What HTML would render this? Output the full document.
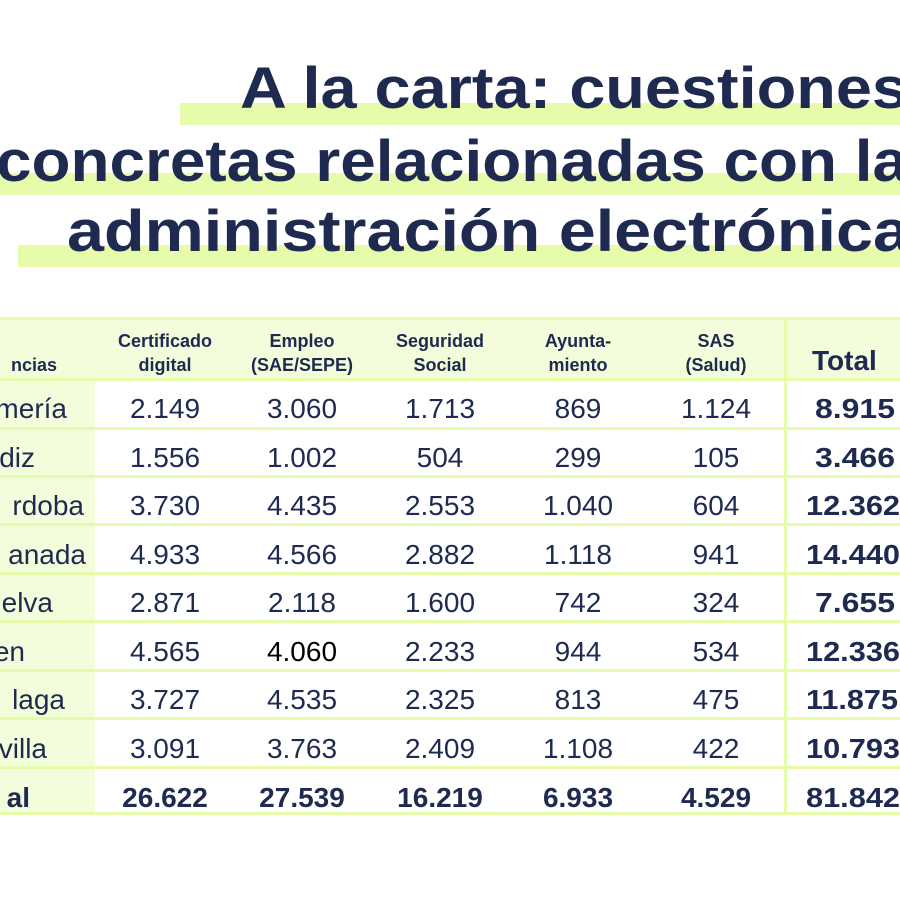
<!DOCTYPE html>
<html><head><meta charset="utf-8"><style>
html,body{margin:0;padding:0;background:#fff;width:900px;height:900px;overflow:hidden}
svg{display:block}
text{font-family:"Liberation Sans",sans-serif;fill:#1e2a4f}
</style></head><body>
<svg width="900" height="900" viewBox="0 0 900 900">
<rect x="180" y="103" width="720" height="22" fill="#e6fcab"/>
<rect x="0" y="173" width="900" height="22" fill="#e6fcab"/>
<rect x="18" y="245" width="882" height="22" fill="#e6fcab"/>
<g font-weight="bold" font-size="58">
<text x="240" y="108" textLength="668" lengthAdjust="spacingAndGlyphs">A la carta: cuestiones</text>
<text x="-4" y="181" textLength="912" lengthAdjust="spacingAndGlyphs">concretas relacionadas con la</text>
<text x="67" y="251" textLength="843" lengthAdjust="spacingAndGlyphs">administración electrónica</text>
</g>
<rect x="0" y="318" width="900" height="61" fill="#f3fddb"/>
<rect x="0" y="379" width="95" height="434" fill="#f3fddb"/>
<g fill="#e6fcab">
<rect x="0" y="317" width="900" height="3"/>
<rect x="0" y="378" width="900" height="3"/>
<rect x="0" y="427" width="900" height="3"/>
<rect x="0" y="475" width="900" height="3"/>
<rect x="0" y="523" width="900" height="3"/>
<rect x="0" y="572" width="900" height="3"/>
<rect x="0" y="620" width="900" height="3"/>
<rect x="0" y="669" width="900" height="3"/>
<rect x="0" y="717" width="900" height="3"/>
<rect x="0" y="766" width="900" height="3"/>
<rect x="0" y="812" width="900" height="3"/>
<rect x="784" y="318" width="3" height="495"/>
</g>
<g font-weight="bold" font-size="18" text-anchor="middle">
<text x="165" y="347">Certificado</text><text x="165" y="371">digital</text>
<text x="302" y="347">Empleo</text><text x="302" y="371">(SAE/SEPE)</text>
<text x="440" y="347">Seguridad</text><text x="440" y="371">Social</text>
<text x="578" y="347">Ayunta-</text><text x="578" y="371">miento</text>
<text x="716" y="347">SAS</text><text x="716" y="371">(Salud)</text>
</g>
<text x="57" y="371" font-weight="bold" font-size="18" text-anchor="end">ncias</text>
<text x="812" y="370" font-weight="bold" font-size="28">Total</text>
<g font-size="28" text-anchor="end">
<text x="67" y="418">mería</text>
<text x="35" y="467">diz</text>
<text x="84" y="515">rdoba</text>
<text x="86" y="564">anada</text>
<text x="53" y="612">elva</text>
<text x="25" y="661">en</text>
<text x="65" y="709">laga</text>
<text x="47" y="758">villa</text>
</g>
<text x="30" y="807" font-size="28" font-weight="bold" text-anchor="end">al</text>
<g font-size="28" text-anchor="middle">
<text x="165" y="418">2.149</text><text x="302" y="418">3.060</text><text x="440" y="418">1.713</text><text x="578" y="418">869</text><text x="716" y="418">1.124</text>
<text x="165" y="467">1.556</text><text x="302" y="467">1.002</text><text x="440" y="467">504</text><text x="578" y="467">299</text><text x="716" y="467">105</text>
<text x="165" y="515">3.730</text><text x="302" y="515">4.435</text><text x="440" y="515">2.553</text><text x="578" y="515">1.040</text><text x="716" y="515">604</text>
<text x="165" y="564">4.933</text><text x="302" y="564">4.566</text><text x="440" y="564">2.882</text><text x="578" y="564">1.118</text><text x="716" y="564">941</text>
<text x="165" y="612">2.871</text><text x="302" y="612">2.118</text><text x="440" y="612">1.600</text><text x="578" y="612">742</text><text x="716" y="612">324</text>
<text x="165" y="661">4.565</text><text x="302" y="661" style="fill:#000">4.060</text><text x="440" y="661">2.233</text><text x="578" y="661">944</text><text x="716" y="661">534</text>
<text x="165" y="709">3.727</text><text x="302" y="709">4.535</text><text x="440" y="709">2.325</text><text x="578" y="709">813</text><text x="716" y="709">475</text>
<text x="165" y="758">3.091</text><text x="302" y="758">3.763</text><text x="440" y="758">2.409</text><text x="578" y="758">1.108</text><text x="716" y="758">422</text>
</g>
<g font-size="28" font-weight="bold" text-anchor="middle">
<text x="165" y="807">26.622</text><text x="302" y="807">27.539</text><text x="440" y="807">16.219</text><text x="578" y="807">6.933</text><text x="716" y="807">4.529</text>
</g>
<g font-size="28" font-weight="bold">
<text x="815" y="418" textLength="80" lengthAdjust="spacingAndGlyphs">8.915</text>
<text x="815" y="467" textLength="80" lengthAdjust="spacingAndGlyphs">3.466</text>
<text x="806" y="515" textLength="94" lengthAdjust="spacingAndGlyphs">12.362</text>
<text x="806" y="564" textLength="94" lengthAdjust="spacingAndGlyphs">14.440</text>
<text x="815" y="612" textLength="80" lengthAdjust="spacingAndGlyphs">7.655</text>
<text x="806" y="661" textLength="94" lengthAdjust="spacingAndGlyphs">12.336</text>
<text x="806" y="709" textLength="92" lengthAdjust="spacingAndGlyphs">11.875</text>
<text x="806" y="758" textLength="94" lengthAdjust="spacingAndGlyphs">10.793</text>
<text x="806" y="807" textLength="94" lengthAdjust="spacingAndGlyphs">81.842</text>
</g>
</svg>
</body></html>
